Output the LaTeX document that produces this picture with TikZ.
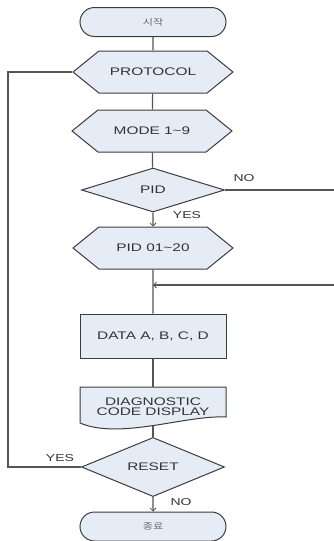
\documentclass[tikz,border=0pt]{standalone}
\usepackage{fontspec}
\setmainfont[FakeStretch=1.4]{Liberation Sans}
\newfontfamily\kr[FakeStretch=1.3]{Noto Sans CJK KR}
\usetikzlibrary{shapes.geometric,shapes.misc,shapes.symbols,arrows.meta}
\definecolor{boxfill}{HTML}{E6ECF6}
\definecolor{boxline}{HTML}{3C3C3C}
\definecolor{wire}{HTML}{555555}
\definecolor{txt}{HTML}{333333}
\tikzset{
  base/.style={draw=boxline, fill=boxfill, line width=1pt, inner sep=0pt,
    text=txt, font=\fontsize{11}{11}\selectfont},
  term/.style={base, rounded rectangle, minimum width=146pt, minimum height=29pt,
    font=\kr\fontsize{8.5}{8.5}\selectfont, text=black!60},
  hexbox/.style={base, signal, signal to=east and west, signal pointer angle=78,
    minimum width=160pt, minimum height=42pt},
  decision/.style={base, diamond, minimum width=143pt, minimum height=44pt},
  procbox/.style={base, rectangle, minimum width=146pt, minimum height=44pt},
  docbody/.style={draw=boxline, fill=boxfill, line width=1pt},
  wire/.style={draw=wire, line width=1.2pt},
  flow/.style={wire, -{Straight Barb[length=3pt,width=6pt,line width=0.8pt]}},
  lbl/.style={text=txt, font=\fontsize{10}{10}\selectfont, inner sep=0pt}
}
\begin{document}
\begin{tikzpicture}[x=1pt,y=-1pt]
\useasboundingbox (0,0) rectangle (334,541);

% terminals, steps and decisions
\node[term]     (start) at (153,22)  {시작};
\node[hexbox]   (proto) at (153,72)  {PROTOCOL};
\node[hexbox]   (mode)  at (152,131) {MODE 1\textasciitilde 9};
\node[decision] (pid)   at (153,190) {PID};
\node[hexbox]   (pidr)  at (153,248) {PID 01\textasciitilde 20};
\node[procbox]  (data)  at (153,336) {DATA A, B, C, D};

% document symbol with wavy lower edge
\path[docbody] (80,387) -- (226,387) -- (226,417)
  .. controls (185,415) and (120,440) .. (80,423) -- cycle;
\node[inner sep=0pt, minimum width=146pt, minimum height=39pt, align=center,
  text=txt, font=\fontsize{11}{10.5}\selectfont] (diag) at (153,406.5)
  {DIAGNOSTIC\\CODE DISPLAY};

\node[decision] (reset) at (153,467) {RESET};
\node[term]     (stop)  at (153,526.5) {종료};

% off-edge connection points and the trunk merge
\coordinate (noout) at (334,190);
\coordinate (noin)  at (334,285);
\coordinate (merge) at (153,285);
\coordinate (loop)  at (8,467);

% connectors
\draw[wire] (start) -- (proto);
\draw[wire] (proto) -- (mode);
\draw[wire] (mode) -- (pid);
\draw[flow] (pid) -- (pidr);
\draw[wire] (pid.east) -- (noout);
\draw[wire] (pidr) -- (data);
\draw[flow] (noin) -- (merge);
\draw[wire] (data) -- (diag);
\draw[wire] (diag) -- (reset);
\draw[flow] (reset) -- (stop);
\draw[wire] (reset.west) -- (loop) |- (proto.west);

% branch labels
\node[lbl] (lno1)  at (244,178) {NO};
\node[lbl] (lyes1) at (187,215) {YES};
\node[lbl] (lyes2) at (60,458)  {YES};
\node[lbl] (lno2)  at (181,502) {NO};
\end{tikzpicture}
\end{document}
